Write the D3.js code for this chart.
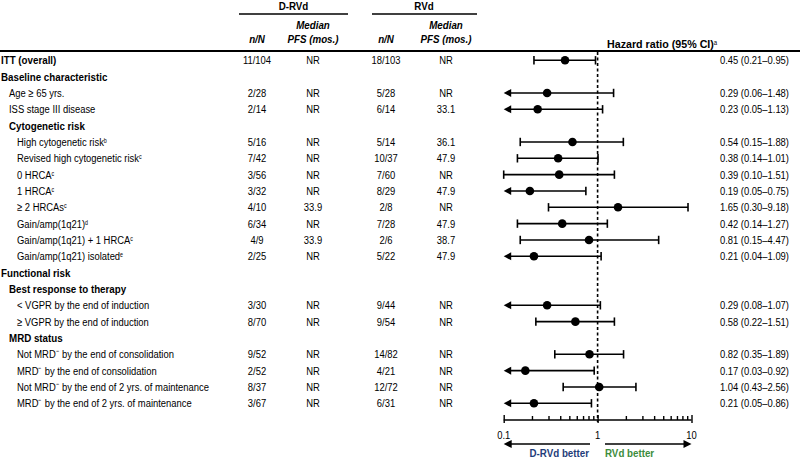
<!DOCTYPE html>
<html><head><meta charset="utf-8">
<script src="https://cdn.jsdelivr.net/npm/d3@7"></script>
<style>
body{margin:0;background:#fff}
svg text{font-family:"Liberation Sans",Arial,sans-serif;font-size:11.5px;fill:#000}
</style></head><body>
<svg id="c" width="800" height="458"></svg>
<script>
// ---- data ----
const labels = ["ITT (overall)","Baseline characteristic","Age \u2265 65 yrs.","ISS stage III disease","Cytogenetic risk",
"High cytogenetic risk","Revised high cytogenetic risk","0 HRCA","1 HRCA","\u2265 2 HRCAs","Gain/amp(1q21)",
"Gain/amp(1q21) + 1 HRCA","Gain/amp(1q21) isolated","Functional risk","Best response to therapy",
"< VGPR by the end of induction","\u2265 VGPR by the end of induction","MRD status",
"Not MRD\u207B by the end of consolidation","MRD\u207B by the end of consolidation",
"Not MRD\u207B by the end of 2 yrs. of maintenance","MRD\u207B by the end of 2 yrs. of maintenance"];
const footnotes = ["","","","","","b","c","c","c","c","d","c","e","","","","","","","","",""];
const levels = [0,0,1,1,1,2,2,2,2,2,2,2,2,0,1,2,2,1,2,2,2,2];
const boldRows = [1,1,0,0,1,0,0,0,0,0,0,0,0,1,1,0,0,1,0,0,0,0];
const drvdN = ["11/104","","2/28","2/14","","5/16","7/42","3/56","3/32","4/10","6/34","4/9","2/25","","","3/30","8/70","","9/52","2/52","8/37","3/67"];
const drvdPFS = ["NR","","NR","NR","","NR","NR","NR","NR","33.9","NR","33.9","NR","","","NR","NR","","NR","NR","NR","NR"];
const rvdN = ["18/103","","5/28","6/14","","5/14","10/37","7/60","8/29","2/8","7/28","2/6","5/22","","","9/44","9/54","","14/82","4/21","12/72","6/31"];
const rvdPFS = ["NR","","NR","33.1","","36.1","47.9","NR","47.9","NR","47.9","38.7","47.9","","","NR","NR","","NR","NR","NR","NR"];
const hr = [0.45,null,0.29,0.23,null,0.54,0.38,0.39,0.19,1.65,0.42,0.81,0.21,null,null,0.29,0.58,null,0.82,0.17,1.04,0.21];
const hrLo = [0.21,null,0.06,0.05,null,0.15,0.14,0.10,0.05,0.30,0.14,0.15,0.04,null,null,0.08,0.22,null,0.35,0.03,0.43,0.05];
const hrHi = [0.95,null,1.48,1.13,null,1.88,1.01,1.51,0.75,9.18,1.27,4.47,1.09,null,null,1.07,1.51,null,1.89,0.92,2.56,0.86];
const axisTicks = [0.1,1,10];

const SX = 0.82, SXB = 0.85;
const svg = d3.select("#c");
const x = d3.scaleLog().domain([0.1,10]).range([503.7,691.5]);
const y = d3.scalePoint().domain(d3.range(labels.length)).range([60.3,403.3]);
const fmt = d3.format(".2f");

function txt(parent, tx, ty, s, anchor, weight, style, sxOverride){
  const sx = sxOverride || (weight==="bold" ? SXB : SX);
  const t = parent.append("text").attr("transform",`translate(${tx},${ty}) scale(${sx},1)`)
    .attr("dy","0.35em").attr("text-anchor",anchor||"start");
  if(weight) t.attr("font-weight",weight);
  if(style) t.attr("font-style",style);
  if(s!=null) t.text(s);
  return t;
}

// header
const hdr = svg.append("g");
txt(hdr,293.5,6,"D-RVd","middle","bold");
txt(hdr,424,6,"RVd","middle","bold");
hdr.append("line").attr("x1",239).attr("x2",348).attr("y1",14).attr("y2",14).attr("stroke","#000").attr("stroke-width",1.5);
hdr.append("line").attr("x1",372).attr("x2",477).attr("y1",14).attr("y2",14).attr("stroke","#000").attr("stroke-width",1.5);
const colN = [257,386], colP = [313,446];
colN.forEach(cx=>txt(hdr,cx,38.5,"n/N","middle","bold","italic"));
colP.forEach(cx=>{
  txt(hdr,cx,25,"Median","middle","bold","italic");
  txt(hdr,cx,38.5,"PFS (mos.)","middle","bold","italic");
});
const ht = txt(hdr,607,43.5,null,"start","bold",null,0.93);
ht.append("tspan").text("Hazard ratio (95% CI)");
ht.append("tspan").attr("dy","-0.45em").attr("font-size","6.5px").attr("font-weight","normal").text("a");
hdr.append("line").attr("x1",0).attr("x2",800).attr("y1",51).attr("y2",51).attr("stroke","#000").attr("stroke-width",2);

// rows
const rows = svg.append("g").selectAll("g").data(labels).join("g").attr("transform",(d,i)=>`translate(0,${y(i)})`);
rows.each(function(d,i){
  const g = d3.select(this);
  const t = txt(g,1+levels[i]*8,0,null,"start",boldRows[i]?"bold":"normal");
  t.append("tspan").text(d);
  if(footnotes[i]) t.append("tspan").attr("dy","-0.45em").attr("font-size","6.5px").text(footnotes[i]);
  txt(g,colN[0],0,drvdN[i],"middle");
  txt(g,colP[0],0,drvdPFS[i],"middle");
  txt(g,colN[1],0,rvdN[i],"middle");
  txt(g,colP[1],0,rvdPFS[i],"middle");
  if(hr[i]!=null){
    txt(g,789,0,`${fmt(hr[i])} (${fmt(hrLo[i])}\u2013${fmt(hrHi[i])})`,"end");
  }
});

// reference line
svg.append("line").attr("x1",x(1)).attr("x2",x(1)).attr("y1",52).attr("y2",422)
  .attr("stroke","#000").attr("stroke-width",1.6).attr("stroke-dasharray","3,2.5");

// CIs
const ci = svg.append("g").attr("stroke","#000").attr("stroke-width",1.6);
hr.forEach((h,i)=>{
  if(h==null) return;
  const yy = y(i);
  const clipped = hrLo[i] < 0.1;
  const xl = clipped ? x(0.1) : x(hrLo[i]);
  const xr = x(hrHi[i]);
  ci.append("line").attr("x1",clipped?xl+5:xl).attr("x2",xr).attr("y1",yy).attr("y2",yy);
  ci.append("line").attr("x1",xr).attr("x2",xr).attr("y1",yy-4.2).attr("y2",yy+4.2);
  if(clipped){
    ci.append("path").attr("d",`M${xl},${yy}L${xl+7.5},${yy-4}L${xl+7.5},${yy+4}Z`).attr("fill","#000").attr("stroke","none");
  } else {
    ci.append("line").attr("x1",xl).attr("x2",xl).attr("y1",yy-4.2).attr("y2",yy+4.2);
  }
  ci.append("circle").attr("cx",x(h)).attr("cy",yy).attr("r",4.3).attr("fill","#000").attr("stroke","none");
});

// axis
const axY = 420;
const ax = svg.append("g").attr("transform",`translate(0,${axY})`)
  .call(d3.axisTop(x).tickValues(x.ticks()).tickSize(4).tickFormat(""));
ax.select(".domain").attr("d",`M${x(0.1)},0H${x(10)}`).attr("stroke","#000").attr("stroke-width",1.6);
ax.selectAll(".tick line").attr("stroke","#000").attr("stroke-width",1.4)
  .filter(d=>axisTicks.includes(d)).attr("y1",3).attr("y2",-5);
const tl = svg.append("g");
axisTicks.forEach(d=>txt(tl,x(d),434.5,String(d),"middle"));

// direction arrows
const arY = 444;
const ar = svg.append("g");
ar.append("line").attr("x1",x(0.1)+6).attr("x2",590).attr("y1",arY).attr("y2",arY).attr("stroke","#000").attr("stroke-width",1.6);
ar.append("path").attr("d",`M${x(0.1)},${arY}L${x(0.1)+8},${arY-4}L${x(0.1)+8},${arY+4}Z`).attr("fill","#000");
ar.append("line").attr("x1",605).attr("x2",x(10)-6).attr("y1",arY).attr("y2",arY).attr("stroke","#000").attr("stroke-width",1.6);
ar.append("path").attr("d",`M${x(10)},${arY}L${x(10)-8},${arY-4}L${x(10)-8},${arY+4}Z`).attr("fill","#000");
txt(ar,589,452.5,"D-RVd better","end","bold").style("fill","#1f3d7a");
txt(ar,605,452.5,"RVd better","start","bold").style("fill","#3c8c3c");
</script></body></html>
